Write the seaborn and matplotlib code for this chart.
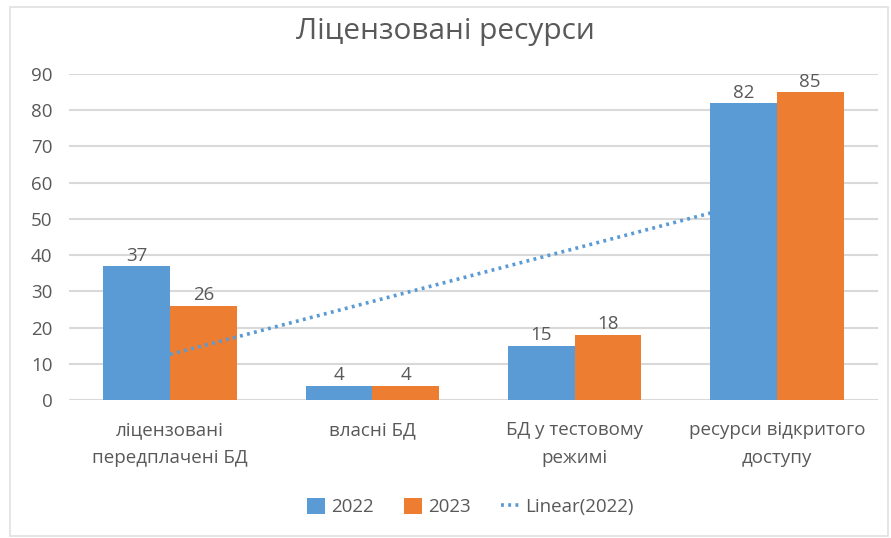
import numpy as np
import pandas as pd
import matplotlib
matplotlib.use("Agg")
import matplotlib.pyplot as plt
import seaborn as sns
from matplotlib.patches import Patch, Rectangle
from matplotlib.lines import Line2D

categories = ["ліцензовані\nпередплачені БД", "власні БД", "БД у тестовому\nрежимі", "ресурси відкритого\nдоступу"]
values_2022 = [37, 4, 15, 82]
values_2023 = [26, 4, 18, 85]
series = ["2022", "2023"]
yticks = [0, 10, 20, 30, 40, 50, 60, 70, 80, 90]

blue = "#5B9BD5"
orange = "#ED7D31"
txt = "#595959"
grid = "#D9D9D9"

sns.set_theme(style="white")
plt.rcParams['font.family'] = ['Open Sans', 'DejaVu Sans']

df = pd.DataFrame({
    "cat": categories * 2,
    "year": [series[0]] * 4 + [series[1]] * 4,
    "val": values_2022 + values_2023,
})

fig = plt.figure(figsize=(8.91, 5.38), dpi=100)
ax = fig.add_axes([69/891, 1-400/538, (878-69)/891, (400-74)/538])

sns.barplot(data=df, x="cat", y="val", hue="year", order=categories, hue_order=series,
            palette=[blue, orange], width=0.66, gap=0, ax=ax, legend=False,
            saturation=1, edgecolor="none")

# zorder: blue above trendline, orange below it
for p in ax.containers[0]:
    p.set_zorder(4)
for p in ax.containers[1]:
    p.set_zorder(3)

# trendline (linear fit of 2022)
xs = np.arange(len(values_2022))
k, b = np.polyfit(xs, values_2022, 1)
ax.plot(xs, k*xs + b, linestyle=(0, (0.8, 1.2)), color=blue, lw=2.6,
        dash_capstyle="butt", zorder=3.5)

for cont in ax.containers:
    ax.bar_label(cont, padding=1, fontsize=13.5, color=txt)

ax.set_ylim(0, 90)
ax.set_xlim(-0.5, 3.5)
ax.set_yticks(yticks)
ax.set_xlabel("")
ax.set_ylabel("")
ax.yaxis.grid(True, color=grid, lw=1.5, zorder=0)
ax.set_axisbelow(True)
for s in ax.spines.values():
    s.set_visible(False)
ax.tick_params(axis="y", length=0, pad=12, labelsize=13.5, labelcolor=txt)
ax.tick_params(axis="x", length=0, pad=15, labelsize=13.5, labelcolor=txt)
for lab in ax.get_xticklabels():
    lab.set_linespacing(1.75)

fig.text(0.5, 1-32/538, "Ліцензовані ресурси", ha="center", va="center",
         fontsize=21.5, color=txt)

handles = [Patch(facecolor=blue, edgecolor="none"),
           Patch(facecolor=orange, edgecolor="none"),
           Line2D([0], [0], color=blue, lw=2.6, linestyle=(0, (0.8, 1.2)))]
fig.legend(handles, ["2022", "2023", "Linear(2022)"], loc="center",
           bbox_to_anchor=(470/891, 1-507/538), ncol=3, frameon=False,
           fontsize=13.5, labelcolor=txt, handlelength=1.0, handleheight=1.0,
           handletextpad=0.3, columnspacing=1.6)

fig.patches.append(Rectangle((10/891, 2/538), 878/891, 529/538, transform=fig.transFigure,
                             fill=False, edgecolor="#E0E0E0", lw=1.2))

fig.savefig("out.png", dpi=100)
